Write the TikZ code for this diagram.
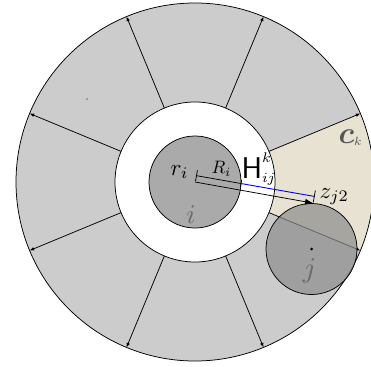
\documentclass[tikz,border=0pt]{standalone}
\usepackage{bm}
\usepackage{graphicx}
\usetikzlibrary{calc,arrows.meta}
\definecolor{annul}{RGB}{204,204,204}
\definecolor{sectorc}{RGB}{231,226,210}
\definecolor{discI}{RGB}{170,170,170}
\definecolor{discJ}{RGB}{140,140,140}
\definecolor{lblgray}{RGB}{105,105,105}
\definecolor{ckgray}{RGB}{85,85,85}
\begin{document}
\begin{tikzpicture}[x=1pt,y=-1pt,line width=0.75pt,
  lbl/.style={inner sep=0pt,outer sep=0pt,transform shape},
  disc/.style={circle,draw,inner sep=0pt},
  radial/.style={-{Latex[length=4.5pt,width=3.5pt]}}]
\clip (0,0) rectangle (371,366);
\coordinate (O) at (195,182);
% annulus and highlighted sector
\fill[annul] (O) circle (179);
\fill[sectorc] ($(O)+(-22.5:179)$) arc[start angle=-22.5,end angle=22.5,radius=179]
  -- ($(O)+(22.5:80)$) arc[start angle=22.5,end angle=-22.5,radius=80] -- cycle;
\draw[fill=white] (O) circle (80);
\foreach \k in {0,...,7}{
  \coordinate (in\k) at ($(O)+(22.5+45*\k:80)$);
  \coordinate (out\k) at ($(O)+(22.5+45*\k:179)$);
  \draw[radial] (in\k) -- (out\k);
}
\draw (O) circle (179);
\node[circle,fill,inner sep=0pt,minimum size=1.2pt] (spot) at (87,99) {};
% particle i
\node[disc,fill=discI,minimum size=92pt] (ci) at (O) {};
\node[lbl,text=lblgray,scale=2.7,anchor=base] (li) at (191,223) {$i$};
% particle j
\node[disc,fill=discJ,fill opacity=0.7,minimum size=91pt] (cj) at (311.5,249) {};
\node[circle,fill,inner sep=0pt,minimum size=3pt] (jc) at (cj.center) {};
\node[lbl,text=lblgray,scale=2.85,anchor=base] (lj) at (309.5,277) {$j$};
% vector and distances
\draw[-{Latex[length=8pt,width=6pt]}] (O) -- (cj.88);
\coordinate (D0) at (196.1,175.6);
\coordinate (D1) at (241.4,183.6);
\coordinate (D2) at (314.3,196.4);
\draw[{Bar[width=11pt]}-{Bar[width=7pt]}] (D0) -- (D1);
\draw[blue,line width=0.9pt] (D1) -- (D2);
\draw ($(D2)!6pt!90:(D1)$) -- ($(D2)!6pt!-90:(D1)$);
% labels
\node[lbl,scale=2.3,anchor=base west] (lr) at (170.5,175) {$r_i$};
\node[lbl,scale=1.8,anchor=base west] (lR) at (211.5,173.5) {$R_i$};
\node[lbl,scale=2.0,anchor=base west] (lH) at (241.5,178) {$\mbox{\fontsize{15}{15}\selectfont\sffamily H}^k_{ij}$};
\node[lbl,scale=2.3,anchor=base west] (lz) at (319.5,198) {$z_{j2}$};
\node[lbl,text=ckgray,scale=1.7,anchor=base west] (lc) at (338.5,143) {$\scalebox{1.8}{$\bm{c}$}_k$};
\end{tikzpicture}
\end{document}
